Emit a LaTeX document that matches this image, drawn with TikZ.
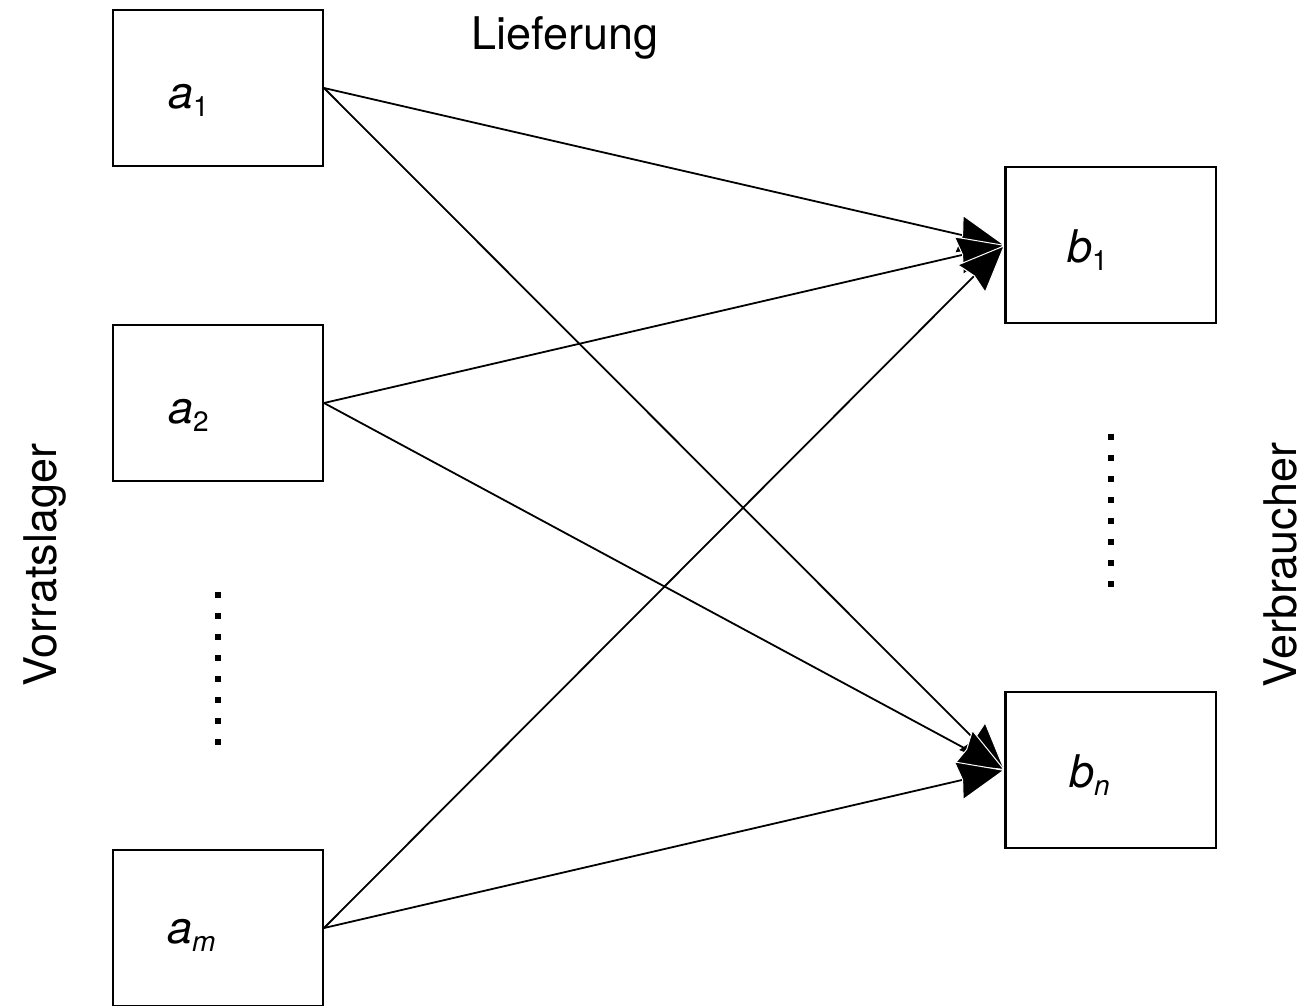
\documentclass[tikz,border=0pt]{standalone}
\usepackage{fontspec}
\setmainfont{TeX Gyre Heros}
\usetikzlibrary{arrows.meta}
\newcommand{\lbl}[2]{\textit{#1}\raisebox{-8pt}{\fontsize{28}{28}\selectfont #2}}
\begin{document}
\begin{tikzpicture}[x=1pt,y=-1pt,
  box/.style={draw,line width=2pt,minimum width=210pt,minimum height=156pt,inner sep=0pt},
  lab/.style={anchor=base west,inner sep=0pt,font=\fontsize{45}{54}\selectfont},
  conn/.style={line width=1.8pt,-{Stealth[length=48pt,width=40pt,inset=4pt,color=white,fill=black,line width=1pt]}},
  dotmark/.style={fill,inner sep=0pt,minimum size=6pt},
  txt/.style={font=\fontsize{45}{54}\selectfont,inner sep=0pt}]
\useasboundingbox (0,0) rectangle (1312,1005);
\node[box] (a1) at (218,88) {};
\node[box] (a2) at (218,403) {};
\node[box] (am) at (218,928) {};
\node[box] (b1) at (1111,245) {};
\node[box] (bn) at (1111,770) {};
\node[lab] (la1) at (168,108) {\lbl{a}{1}};
\node[lab] (la2) at (168,423) {\lbl{a}{2}};
\node[lab] (lam) at (167,943) {\lbl{a}{\textit{m}}};
\node[lab] (lb1) at (1067,262) {\lbl{b}{1}};
\node[lab] (lbn) at (1069,787) {\lbl{b}{\textit{n}}};
\draw[conn] (a1.east) -- (b1.west);
\draw[conn] (a1.east) -- (bn.west);
\draw[conn] (a2.east) -- (b1.west);
\draw[conn] (a2.east) -- (bn.west);
\draw[conn] (am.east) -- (b1.west);
\draw[conn] (am.east) -- (bn.west);
\draw[line width=2pt] (b1.north west) -- (b1.south west);
\draw[line width=2pt] (bn.north west) -- (bn.south west);
\foreach \i in {0,...,7} {
  \node[dotmark] (ld\i) at (218,595+21*\i) {};
  \node[dotmark] (rd\i) at (1111,437+21*\i) {};
}
\node[txt] (lief) at (565,38) {Lieferung};
\node[txt,rotate=90] (vor) at (45,565) {Vorratslager};
\node[txt,rotate=90] (ver) at (1280,565) {Verbraucher};
\end{tikzpicture}
\end{document}
